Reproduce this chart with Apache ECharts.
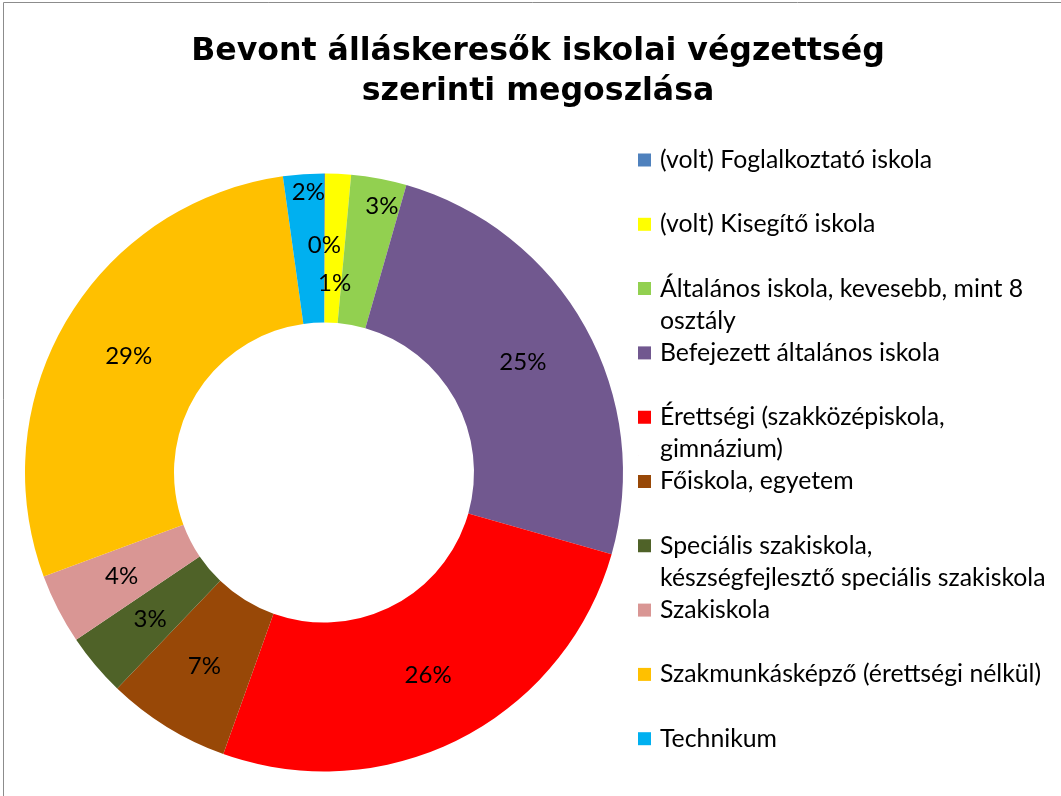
<!DOCTYPE html>
<html>
<head>
<meta charset="utf-8">
<script src="https://cdn.jsdelivr.net/npm/echarts@6/dist/echarts.min.js"></script>
<style>
	html, body { margin: 0; padding: 0; background: #fff; }
	#chart-div { width: 1061px; height: 796px; }
</style>
</head>
<body>
<div id="chart-div"></div>
<script>
// kategóriák (a legendában látható tördeléssel)
var g_categories = [
	"(volt) Foglalkoztató iskola",
	"(volt) Kisegítő iskola",
	"Általános iskola, kevesebb, mint 8\nosztály",
	"Befejezett általános iskola",
	"Érettségi (szakközépiskola,\ngimnázium)",
	"Főiskola, egyetem",
	"Speciális szakiskola,\nkészségfejlesztő speciális szakiskola",
	"Szakiskola",
	"Szakmunkásképző (érettségi nélkül)",
	"Technikum"
];
// megoszlás, százalék (a képről becsülve)
var g_values = [0.05, 1.4, 3.0, 25.0, 26.1, 6.7, 3.4, 3.8, 28.5, 2.2];
var g_colors = ["#4F81BD", "#FFFF00", "#92D050", "#71588F", "#FF0000",
		"#984807", "#4F6228", "#D99694", "#FFC000", "#00B0F0"];
// címkék eltolása a zsúfolt kis szeleteknél
var g_label_nudge = [[0, 0], [0, 38], [16, -43], [0, 0], [0, 0],
		     [0, 0], [0, 0], [0, 0], [0, 0], [0, -53]];

// egyenletes legendasorok: minden tétel külön legenda
var LEGEND_TOP = 144, LEGEND_STEP = 64.3;
var g_legends = g_categories.map((c, i) => {
	var wrapped = c.indexOf("\n") >= 0;
	return {
		orient: "vertical",
		left: 638,
		top: LEGEND_TOP + i * LEGEND_STEP,
		padding: 0,
		itemWidth: 13,
		itemHeight: wrapped ? 45 : 13,
		// kétsoros tételnél a négyzet az első sorhoz igazodik
		icon: wrapped ? "path://M0,0h13v13h-13z M0,44.9h0.1v0.1h-0.1z"
			      : "rect",
		data: [c],
		textStyle: {
			fontFamily: "Lato",
			fontSize: 24.8,
			lineHeight: 32,
			color: "#000",
			padding: [0, 0, 0, 4]
		}
	};
});

var g_chart = echarts.init(document.getElementById("chart-div"));

g_chart.setOption({
	animation: false,
	graphic: [{
		type: "rect",
		shape: { x: 3.5, y: 2.5, width: 1200, height: 900 },
		style: { fill: "none", stroke: "#8c8c8c", lineWidth: 1 },
		silent: true
	}],
	title: {
		text: "Bevont álláskeresők iskolai végzettség\nszerinti megoszlása",
		left: 533,
		top: 27,
		textAlign: "center",
		textStyle: {
			fontFamily: "DejaVu Sans",
			fontWeight: "bold",
			fontSize: 31.6,
			lineHeight: 40,
			color: "#000"
		}
	},
	legend: g_legends,
	series: [{
		type: "pie",
		center: [324, 472.5],
		radius: [150, 299],
		startAngle: 90,
		clockwise: true,
		avoidLabelOverlap: false,
		color: g_colors,
		label: {
			show: true,
			position: "inside",
			fontFamily: "Lato",
			fontSize: 24,
			color: "#000",
			formatter: p => Math.round(p.value) + "%"
		},
		labelLine: { show: false },
		labelLayout: p => ({
			dx: g_label_nudge[p.dataIndex][0],
			dy: g_label_nudge[p.dataIndex][1]
		}),
		data: g_categories.map((c, i) => ({ name: c, value: g_values[i] }))
	}]
});
</script>
</body>
</html>
